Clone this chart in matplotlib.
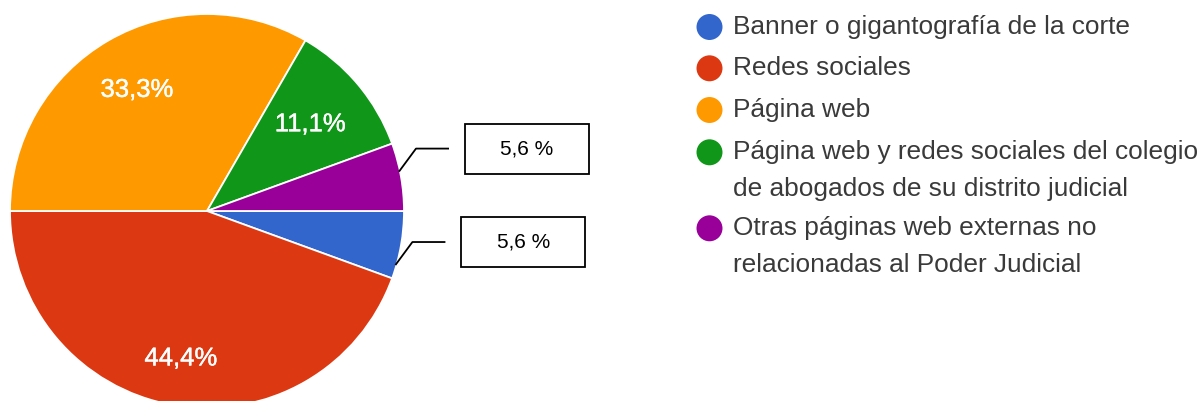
import matplotlib
matplotlib.use("Agg")
import numpy as np
import matplotlib.pyplot as plt
import matplotlib.patheffects as pe

plt.rcParams['font.family'] = ['Liberation Sans', 'DejaVu Sans']

# data (18 respuestas)
categories = [
    "Banner o gigantografía de la corte",
    "Redes sociales",
    "Página web",
    "Página web y redes sociales del colegio\nde abogados de su distrito judicial",
    "Otras páginas web externas no\nrelacionadas al Poder Judicial",
]
counts = [1, 8, 6, 2, 1]
colors = ["#3366CC", "#DC3912", "#FF9900", "#109618", "#990099"]

# layout (pixel units, y up)
W, H = 1200, 401
cx, cy, R = 207, H - 211, 197
label_dist = [0.72, 0.76, 0.71, 0.685, 0.72]
callout_frac = [0.2, 0.5, 0.5, 0.5, 0.58]


def fmt_pct(p):
    return (f"{p:.1f}".replace(".", ",") + "%") if p > 8 else ""


fig = plt.figure(figsize=(12, 4.01), dpi=100)
ax = fig.add_axes([0, 0, 1, 1])

wedges, texts, autotexts = ax.pie(
    counts,
    colors=colors,
    startangle=0,
    counterclock=False,
    radius=R,
    center=(cx, cy),
    autopct=fmt_pct,
    wedgeprops=dict(edgecolor="white", linewidth=1.3),
    textprops=dict(color="white", fontsize=18.5),
)

total = sum(counts)
for i, (w, t) in enumerate(zip(wedges, autotexts)):
    mid = np.radians((w.theta1 + w.theta2) / 2)
    t.set_position((cx + R * label_dist[i] * np.cos(mid), cy + R * label_dist[i] * np.sin(mid)))
    t.set_ha("center")
    t.set_va("center")
    t.set_path_effects([pe.withStroke(linewidth=0.3, foreground="white")])
    pct = 100 * counts[i] / total
    if pct <= 8:
        # callout box for small slices
        a = np.radians(w.theta1 + callout_frac[i] * (w.theta2 - w.theta1))
        x0, y0 = cx + 196 * np.cos(a), cy + 196 * np.sin(a)
        x1, y1 = x0 + 17, y0 + 23
        x2 = x1 + 33
        ax.plot([x0, x1, x2], [y0, y1, y1], color="black", lw=1.3, solid_capstyle="butt")
        bx = x0 + 66
        ax.add_patch(plt.Rectangle((bx, y1 - 25), 124, 50, fc="white", ec="black", lw=1.3))
        ax.text(bx + 62, y1, f"{pct:.1f}".replace(".", ",") + " %",
                ha="center", va="center", fontsize=15, color="black")

# legend
leg_x, txt_x = 709.5, 733
leg_y = [27, 68.3, 110, 152.3, 228.3]
for lab, col, ly in zip(categories, colors, leg_y):
    ax.scatter([leg_x], [H - ly], s=350, color=col, edgecolors="none", zorder=3)
    for k, line in enumerate(lab.split("\n")):
        ax.text(txt_x, H - ly - 37 * k, line, ha="left", va="center",
                fontsize=18.9, color="#3a3a3a")

ax.set_xlim(0, W)
ax.set_ylim(0, H)
ax.set_aspect("equal")
ax.axis("off")

fig.savefig("out.png", dpi=100, facecolor="white")
